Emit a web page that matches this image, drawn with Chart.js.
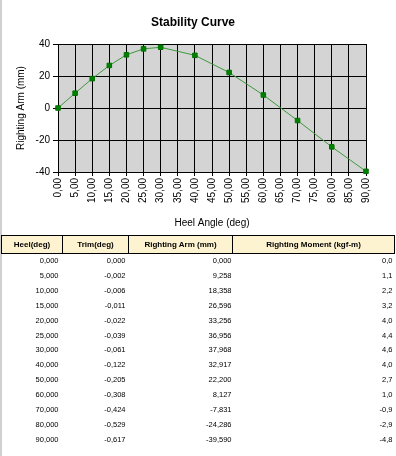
<!DOCTYPE html>
<html>
<head>
<meta charset="utf-8">
<script src="https://cdn.jsdelivr.net/npm/chart.js@4"></script>
<style>
html,body{margin:0;padding:0;background:#fff;}
body{width:396px;height:456px;position:relative;overflow:hidden;font-family:'Liberation Sans',Arial,sans-serif;}
#edge{position:absolute;left:0;top:0;width:2px;height:456px;background:#d0d0d0;}
#chart{position:absolute;left:0;top:0;}
#tbl{position:absolute;left:1px;top:235px;width:393px;border-collapse:collapse;table-layout:fixed;}
#tbl th{border:1px solid #000;background:#fdf3d0;font-size:8px;font-weight:bold;height:17px;padding:0;text-align:center;color:#000;}
#tbl td{font-size:7.5px;height:14.9px;padding:0;text-align:right;color:#000;line-height:14.9px;}
</style>
</head>
<body>
<canvas id="chart" width="396" height="232"></canvas>
<div id="edge"></div>
<table id="tbl">
<colgroup><col style="width:61px"><col style="width:66px"><col style="width:104px"><col style="width:162px"></colgroup>
<thead><tr><th>Heel(deg)</th><th>Trim(deg)</th><th>Righting Arm (mm)</th><th>Righting Moment (kgf-m)</th></tr></thead>
<tbody id="tbody"></tbody>
</table>
<script>
var heel=[0,5,10,15,20,25,30,40,50,60,70,80,90];
var trim=[0,-0.002,-0.006,-0.011,-0.022,-0.039,-0.061,-0.122,-0.205,-0.308,-0.424,-0.529,-0.617];
var arm=[0,9.258,18.358,26.596,33.256,36.956,37.968,32.917,22.200,8.127,-7.831,-24.286,-39.590];
var moment=[0.0,1.1,2.2,3.2,4.0,4.4,4.6,4.0,2.7,1.0,-0.9,-2.9,-4.8];
var yTicks=[-40,-20,0,20,40];

function fmt(v,d){return v.toFixed(d).replace('.',',');}

var html='';
for(var i=0;i<heel.length;i++){
  html+='<tr>';
  html+='<td style="padding-right:4px">'+fmt(heel[i],3)+'</td>';
  html+='<td style="padding-right:3px">'+fmt(trim[i],3)+'</td>';
  html+='<td style="padding-right:1px">'+fmt(arm[i],3)+'</td>';
  html+='<td style="padding-right:2px">'+fmt(moment[i],1)+'</td>';
  html+='</tr>';
}
document.getElementById('tbody').innerHTML=html;

var pts=[];
for(var i=0;i<heel.length;i++) pts.push({x:heel[i],y:arm[i]});

Chart.defaults.font.family="'Liberation Sans', Arial, sans-serif";
Chart.defaults.color='#000';

var plotBg={
  id:'plotBg',
  beforeDraw:function(chart){
    var a=chart.chartArea,ctx=chart.ctx;
    ctx.save();ctx.fillStyle='#d4d4d4';
    ctx.fillRect(a.left,a.top,a.right-a.left,a.bottom-a.top);
    ctx.restore();
  }
};

new Chart(document.getElementById('chart'),{
  type:'line',
  data:{datasets:[{
    data:pts,borderColor:'#3c9a3c',borderWidth:1,
    pointStyle:'rect',pointRadius:3.2,pointBorderWidth:1,
    pointBackgroundColor:'#008000',pointBorderColor:'#007000',
    tension:0,clip:false
  }]},
  options:{
    responsive:false,animation:false,
    layout:{padding:{left:10,right:20,top:0,bottom:0}},
    plugins:{
      legend:{display:false},tooltip:{enabled:false},
      title:{display:true,text:'Stability Curve',font:{size:12,weight:'bold'},color:'#000',
        padding:{top:15.5,bottom:14.1}}
    },
    scales:{
      x:{type:'linear',min:0,max:90,
        afterFit:function(s){s.height=60;},
        ticks:{stepSize:5,autoSkip:false,minRotation:90,maxRotation:90,padding:2,
          font:{size:10},color:'#000',
          callback:function(v){return fmt(v,2);}},
        grid:{color:'#000',lineWidth:1,tickLength:4},
        border:{color:'#000'},
        title:{display:true,text:'Heel Angle (deg)',font:{size:10},color:'#000',padding:{top:0,bottom:3}}
      },
      y:{min:-40,max:40,
        afterFit:function(s){s.width=48;},
        afterBuildTicks:function(s){s.ticks=yTicks.map(function(v){return {value:v};});},
        ticks:{font:{size:10},color:'#000',padding:3},
        grid:{color:'#000',lineWidth:1,tickLength:5},
        border:{color:'#000'},
        title:{display:true,text:'Righting Arm (mm)',font:{size:10},color:'#000',padding:{top:5,bottom:0}}
      },
      spacer:{position:'right',min:0,max:1,
        afterFit:function(s){s.width=10;},
        ticks:{display:false},
        grid:{display:false,drawTicks:false},
        border:{display:false}
      }
    }
  },
  plugins:[plotBg]
});
</script>
</body>
</html>
